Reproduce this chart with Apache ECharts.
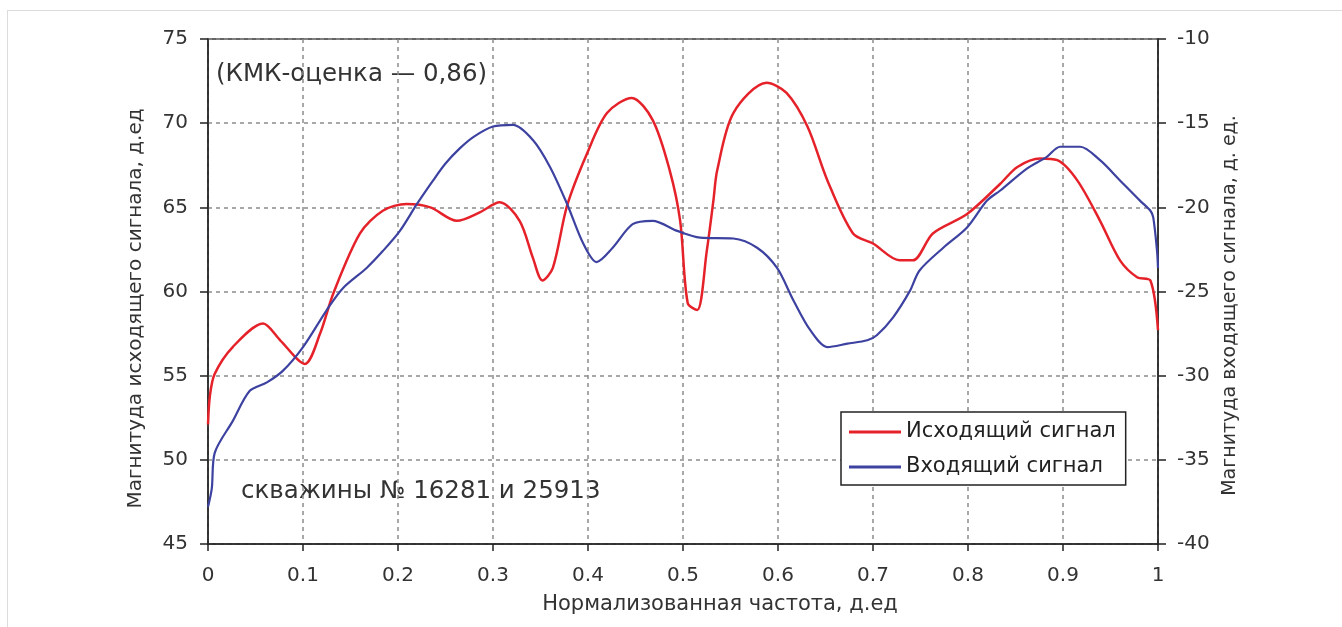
<!DOCTYPE html>
<html>
<head>
<meta charset="utf-8">
<script src="https://cdn.jsdelivr.net/npm/echarts@6/dist/echarts.min.js"></script>
<style>
  html, body { margin: 0; padding: 0; background: #fff; }
  #frame { position: absolute; left: 7px; top: 10px; width: 1335px; height: 617px;
           border-top: 1px solid #dcdcdc; border-left: 1px solid #dcdcdc; }
  #chart { position: absolute; left: 0; top: 0; width: 1342px; height: 627px; }
</style>
</head>
<body>
<div id="frame"></div>
<div id="chart"></div>
<script>
// исходящий сигнал (левая ось)
const freqOut = [0, 0.002, 0.007, 0.026, 0.058, 0.076, 0.102, 0.118, 0.132, 0.16, 0.184, 0.209, 0.234, 0.262, 0.286, 0.307,
  0.328, 0.342, 0.352, 0.363, 0.378, 0.399, 0.42, 0.446, 0.468, 0.486, 0.497, 0.505, 0.515, 0.525, 0.532, 0.536, 0.553,
  0.588, 0.609, 0.631, 0.652, 0.679, 0.7, 0.728, 0.742, 0.763, 0.799, 0.834, 0.852, 0.876, 0.894, 0.915, 0.939, 0.96,
  0.978, 0.992, 1]
const outgoing = [52.1, 53.8, 55.1, 56.7, 58.1, 57.1, 55.7, 57.5, 59.9, 63.45, 64.8, 65.2, 65.0, 64.2, 64.7, 65.3,
  64.2, 62.0, 60.65, 61.4, 65.1, 68.2, 70.6, 71.5, 70.2, 67.2, 64.2, 59.3, 58.9, 62.4, 65.4, 67.2, 70.6,
  72.4, 71.8, 69.8, 66.6, 63.45, 62.85, 61.85, 61.85, 63.45, 64.6, 66.4, 67.4, 67.9, 67.8, 66.6, 64.2, 61.85,
  60.85, 60.65, 57.7]

// входящий сигнал (правая ось)
const freqIn = [0, 0.004, 0.007, 0.026, 0.044, 0.062, 0.079, 0.1, 0.125, 0.142, 0.167, 0.184, 0.202, 0.22, 0.237, 0.25,
  0.265, 0.28, 0.3, 0.321, 0.342, 0.36, 0.378, 0.395, 0.409, 0.426, 0.447, 0.468, 0.494, 0.518, 0.553, 0.578, 0.599,
  0.616, 0.634, 0.652, 0.673, 0.694, 0.704, 0.721, 0.739, 0.749, 0.774, 0.799, 0.82, 0.834, 0.862, 0.883, 0.897, 0.918,
  0.939, 0.96, 0.981, 0.992, 0.995, 0.999, 1]
const incoming = [-37.8, -36.7, -34.6, -32.7, -30.9, -30.4, -29.7, -28.3, -26.1, -24.8, -23.6, -22.6, -21.4, -19.8, -18.4, -17.4,
  -16.5, -15.8, -15.2, -15.1, -16.0, -17.6, -19.8, -22.15, -23.25, -22.4, -21.0, -20.8, -21.4, -21.8, -21.85, -22.4, -23.6,
  -25.5, -27.3, -28.3, -28.1, -27.9, -27.6, -26.55, -24.95, -23.75, -22.4, -21.2, -19.6, -19.0, -17.7, -17.0, -16.4, -16.4,
  -17.2, -18.4, -19.6, -20.2, -20.6, -22.6, -23.6]

const FONT = 'DejaVu Sans, Liberation Sans, sans-serif'
const zip = (xs, ys) => xs.map((x, i) => [x, ys[i]])

let myChart = echarts.init(document.getElementById('chart'), null, {renderer: 'canvas'})
let option = {
  animation: false,
  textStyle: {fontFamily: FONT},
  grid: {
    left: 208, right: 184, top: 39, bottom: 83,
    show: true, borderColor: '#333', borderWidth: 1.5, backgroundColor: 'transparent'
  },
  legend: {
    left: 841, top: 412,
    orient: 'vertical',
    itemWidth: 52, itemHeight: 3, itemGap: 11,
    icon: 'rect',
    padding: [8, 10, 6, 8],
    borderColor: '#222', borderWidth: 1.5, backgroundColor: '#fff',
    textStyle: {fontFamily: FONT, fontSize: 21, color: '#222', lineHeight: 24},
    data: ['Исходящий сигнал', 'Входящий сигнал']
  },
  xAxis: {
    type: 'value', min: 0, max: 1, interval: 0.1,
    name: 'Нормализованная частота, д.ед',
    nameLocation: 'middle', nameGap: 50,
    nameTextStyle: {fontFamily: FONT, fontSize: 21, color: '#333', padding: [0, 0, 0, 74]},
    axisLine: {lineStyle: {color: '#222', width: 1.5}},
    axisTick: {show: true, length: 7, lineStyle: {color: '#222', width: 1.5}},
    axisLabel: {fontFamily: FONT, fontSize: 20, color: '#333', margin: 22},
    splitLine: {show: true, lineStyle: {color: '#8c8c8c', type: [4, 4], width: 1.5}}
  },
  yAxis: [{
    type: 'value', min: 45, max: 75, interval: 5,
    name: 'Магнитуда исходящего сигнала, д.ед',
    nameLocation: 'middle', nameGap: 62,
    nameTextStyle: {fontFamily: FONT, fontSize: 20, color: '#333', padding: [0, 34, 0, 0]},
    axisLine: {show: true, lineStyle: {color: '#222', width: 1.5}},
    axisTick: {show: true, length: 8, lineStyle: {color: '#222', width: 1.5}},
    axisLabel: {fontFamily: FONT, fontSize: 20, color: '#333', margin: 20},
    splitLine: {show: true, lineStyle: {color: '#8c8c8c', type: [4, 4], width: 1.5}}
  }, {
    type: 'value', min: -40, max: -10, interval: 5,
    position: 'right',
    name: 'Магнитуда входящего сигнала, д. ед.',
    nameLocation: 'middle', nameGap: 58, nameRotate: 90,
    nameTextStyle: {fontFamily: FONT, fontSize: 19, color: '#333', padding: [0, 28, 0, 0]},
    axisLine: {show: true, lineStyle: {color: '#222', width: 1.5}},
    axisTick: {show: true, length: 8, lineStyle: {color: '#222', width: 1.5}},
    axisLabel: {fontFamily: FONT, fontSize: 20, color: '#333', margin: 19},
    splitLine: {show: false}
  }],
  graphic: [{
    type: 'text', left: 216, top: 62,
    style: {text: '(КМК-оценка — 0,86)', font: '24.5px ' + FONT, fill: '#333'}
  }, {
    type: 'text', left: 241, top: 479,
    style: {text: 'скважины № 16281 и 25913', font: '24.5px ' + FONT, fill: '#333'}
  }],
  series: [{
    name: 'Исходящий сигнал',
    type: 'line', yAxisIndex: 0, smooth: 0.3,
    symbol: 'none',
    lineStyle: {color: '#e5222a', width: 2.5},
    itemStyle: {color: '#e5222a'},
    data: zip(freqOut, outgoing)
  }, {
    name: 'Входящий сигнал',
    type: 'line', yAxisIndex: 1, smooth: 0.3,
    symbol: 'none',
    lineStyle: {color: '#3d42a0', width: 2.2},
    itemStyle: {color: '#3d42a0'},
    data: zip(freqIn, incoming)
  }]
}
myChart.setOption(option)
</script>
</body>
</html>
